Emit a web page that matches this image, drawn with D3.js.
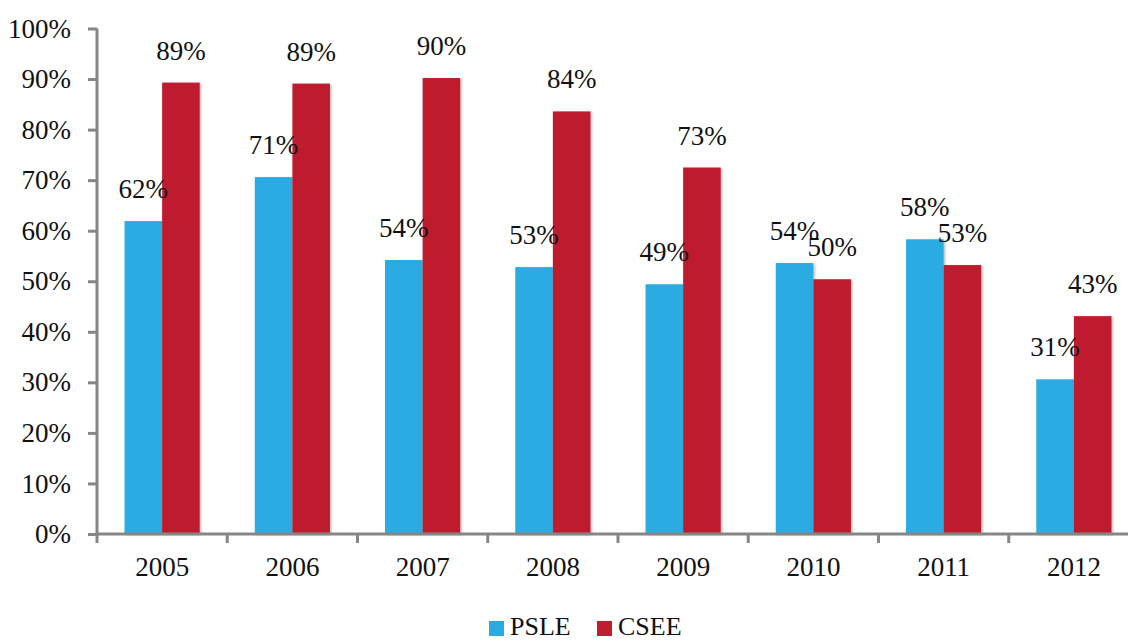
<!DOCTYPE html>
<html>
<head>
<meta charset="utf-8">
<script src="https://cdn.jsdelivr.net/npm/d3@7"></script>
<style>
  html, body { margin: 0; padding: 0; background: #fff; }
  svg { display: block; }
  text { font-family: "Liberation Serif", "DejaVu Serif", serif; fill: #111; }
</style>
</head>
<body>
<svg id="chart" width="1128" height="640"></svg>
<script>
// Pass rates by year
const years = ["2005", "2006", "2007", "2008", "2009", "2010", "2011", "2012"];
const seriesNames = ["PSLE", "CSEE"];
const psle = [0.619, 0.706, 0.542, 0.528, 0.494, 0.536, 0.583, 0.306];
const csee = [0.893, 0.891, 0.902, 0.836, 0.725, 0.504, 0.532, 0.431];
const yTicks = [0, 0.1, 0.2, 0.3, 0.4, 0.5, 0.6, 0.7, 0.8, 0.9, 1.0];
const colors = ["#29ABE2", "#BE1E2D"];

const rows = years.map((y, i) => ({ year: y, values: [psle[i], csee[i]] }));

const svg = d3.select("#chart");
const axisColor = "#868686";
const fontSize = 27;

// soft shadow behind bars
const defs = svg.append("defs");
const f = defs.append("filter").attr("id", "shadow")
  .attr("x", "-20%").attr("y", "-5%").attr("width", "150%").attr("height", "115%");
f.append("feDropShadow").attr("dx", 1.5).attr("dy", 1).attr("stdDeviation", 1)
  .attr("flood-color", "#000").attr("flood-opacity", 0.28);

const x0 = d3.scaleBand().domain(years).range([97, 1139]).padding(0);
const x1 = d3.scaleBand().domain(seriesNames).range([0, x0.bandwidth()])
  .paddingInner(0).paddingOuter(0.733);
const y = d3.scaleLinear().domain([0, 1]).range([534, 28.5]);

// bars
const groups = svg.append("g").selectAll("g").data(rows).join("g")
  .attr("transform", d => `translate(${x0(d.year)},0)`);

groups.selectAll("rect").data(d => d.values.map((v, i) => ({ v, i })))
  .join("rect")
  .attr("x", d => x1(seriesNames[d.i]))
  .attr("width", x1.bandwidth())
  .attr("y", d => y(d.v))
  .attr("height", d => y(0) - y(d.v))
  .attr("fill", d => colors[d.i])
  .attr("filter", "url(#shadow)");

// value labels
const fmt = d3.format(".0%");
groups.selectAll("text.lbl").data(d => d.values.map((v, i) => ({ v, i })))
  .join("text")
  .attr("class", "lbl")
  .attr("x", d => x1(seriesNames[d.i]) + x1.bandwidth() / 2)
  .attr("y", d => y(d.v) - 23)
  .attr("text-anchor", "middle")
  .attr("font-size", fontSize)
  .text(d => fmt(d.v));

// y axis
const yAxis = svg.append("g").attr("transform", "translate(97,0)")
  .call(d3.axisLeft(y).tickValues(yTicks).tickFormat(d3.format(".0%"))
    .tickSize(9).tickPadding(17));
yAxis.select(".domain").attr("stroke", axisColor).attr("stroke-width", 3)
  .attr("d", `M0,${y(1)}V${y(0) + 1.5}`);
yAxis.selectAll(".tick line").attr("stroke", axisColor).attr("stroke-width", 3);
yAxis.selectAll(".tick text").attr("font-size", fontSize)
  .attr("font-family", "Liberation Serif, DejaVu Serif, serif").attr("fill", "#111");

// x axis
const xAxisG = svg.append("g").attr("transform", `translate(0,${y(0)})`);
xAxisG.append("line").attr("x1", 95.5).attr("x2", 1139)
  .attr("stroke", axisColor).attr("stroke-width", 3);
xAxisG.selectAll("line.tk").data(years.concat(["end"]))
  .join("line").attr("class", "tk")
  .attr("x1", (d, i) => 97 + i * x0.step()).attr("x2", (d, i) => 97 + i * x0.step())
  .attr("y1", 0).attr("y2", 9)
  .attr("stroke", axisColor).attr("stroke-width", 3);
xAxisG.selectAll("text").data(years).join("text")
  .attr("x", d => x0(d) + x0.bandwidth() / 2)
  .attr("y", 42)
  .attr("text-anchor", "middle")
  .attr("font-size", fontSize)
  .text(d => d);

// legend
const legend = svg.append("g");
const legendItems = [{ name: "PSLE", x: 489 }, { name: "CSEE", x: 597 }];
legendItems.forEach((it, i) => {
  legend.append("rect").attr("x", it.x).attr("y", 621).attr("width", 15).attr("height", 15)
    .attr("fill", colors[i]);
  legend.append("text").attr("x", it.x + 21).attr("y", 635)
    .attr("font-size", fontSize - 1).text(it.name);
});
</script>
</body>
</html>
